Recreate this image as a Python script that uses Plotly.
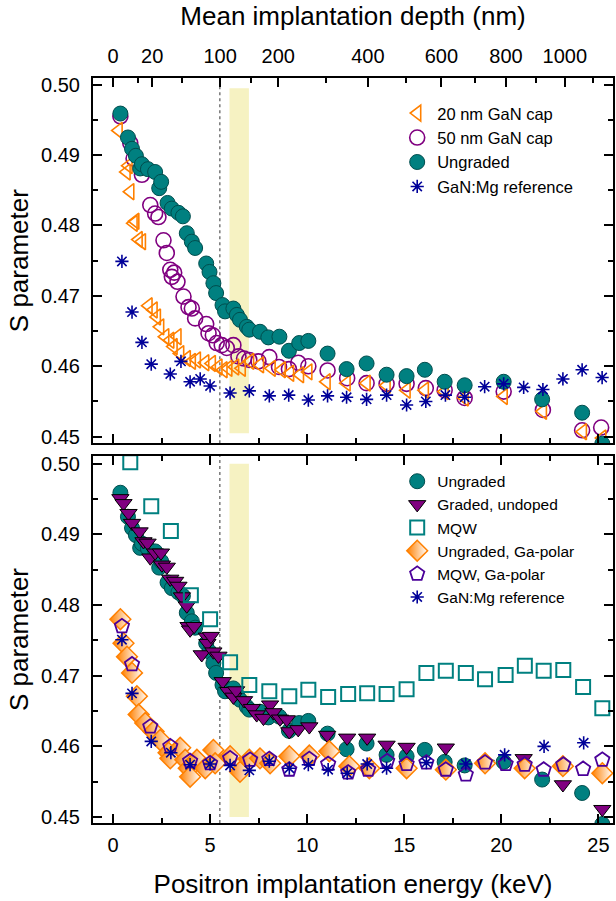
import plotly.graph_objects as go

# ---------------- data ----------------
# Top panel
ungraded_E = [0.38, 0.77, 0.98, 1.18, 1.40, 1.49, 1.80, 2.17, 2.38, 2.48, 2.81, 3.03, 3.37, 3.60, 3.80, 4.06,
              4.23, 4.80, 4.97, 5.17, 5.31, 5.64, 5.77, 6.20, 6.38, 6.54, 6.89, 7.02, 7.57, 8.00, 8.57, 9.06,
              9.59, 10.06, 11.05, 12.03, 13.06, 14.09, 15.12, 16.06, 17.08, 18.11, 20.12, 22.10, 24.16, 25.20]
ungraded_S = [0.4959, 0.4925, 0.4909, 0.4899, 0.4881, 0.4887, 0.4880, 0.4876, 0.4853, 0.4862, 0.4832, 0.4824,
              0.4818, 0.4813, 0.4789, 0.4777, 0.4768, 0.4746, 0.4734, 0.4718, 0.4704, 0.4687, 0.4678, 0.4682,
              0.4673, 0.4666, 0.4656, 0.4652, 0.4649, 0.4641, 0.4642, 0.4622, 0.4633, 0.4636, 0.4618, 0.4596,
              0.4604, 0.4588, 0.4586, 0.4595, 0.4578, 0.4573, 0.4578, 0.4553, 0.4534, 0.4490]

cap20_E = [0.29, 0.70, 0.80, 0.89, 1.06, 1.15, 1.32, 1.49, 1.83, 2.09, 2.26, 2.43, 2.69, 2.95, 3.12, 3.32,
           3.46, 3.80, 4.06, 4.32, 4.75, 5.09, 5.43, 5.69, 5.94, 6.29, 6.63, 7.06, 7.57, 8.17, 8.69, 9.12,
           9.63, 10.06, 11.00, 12.03, 13.06, 14.09, 15.12, 16.06, 17.08, 18.11, 20.12, 22.14, 24.20, 25.20]
cap20_S = [0.4935, 0.4876, 0.4885, 0.4848, 0.4803, 0.4806, 0.4780, 0.4777, 0.4686, 0.4680, 0.4670, 0.4656,
           0.4642, 0.4637, 0.4628, 0.4642, 0.4618, 0.4611, 0.4607, 0.4609, 0.4605, 0.4604, 0.4599, 0.4595,
           0.4597, 0.4599, 0.4597, 0.4607, 0.4602, 0.4597, 0.4595, 0.4590, 0.4588, 0.4592, 0.4578, 0.4576,
           0.4576, 0.4573, 0.4566, 0.4566, 0.4564, 0.4555, 0.4557, 0.4536, 0.4507, 0.4498]

cap50_E = [0.38, 0.89, 1.06, 1.49, 1.92, 2.17, 2.34, 2.60, 2.77, 2.95, 3.03, 3.15, 3.32, 3.63, 3.89, 4.06,
           4.23, 4.80, 4.92, 5.14, 5.34, 5.60, 5.86, 6.20, 6.46, 6.75, 7.02, 7.49, 8.05, 8.55, 9.06, 9.54,
           10.06, 11.05, 12.06, 13.06, 14.09, 15.12, 16.11, 17.08, 18.11, 20.12, 22.14, 24.16, 25.14]
cap50_S = [0.4955, 0.4917, 0.4895, 0.4872, 0.4829, 0.4817, 0.4812, 0.4779, 0.4761, 0.4737, 0.4727, 0.4733,
           0.4720, 0.4699, 0.4684, 0.4682, 0.4668, 0.4660, 0.4647, 0.4644, 0.4633, 0.4630, 0.4626, 0.4630,
           0.4614, 0.4611, 0.4609, 0.4607, 0.4613, 0.4599, 0.4596, 0.4605, 0.4600, 0.4594, 0.4583, 0.4576,
           0.4575, 0.4575, 0.4569, 0.4566, 0.4555, 0.4564, 0.4538, 0.4509, 0.4513]

mgref_top_E = [0.46, 0.98, 1.49, 1.97, 2.95, 3.50, 3.97, 4.49, 5.00, 6.03, 7.02, 8.05, 9.05, 10.06, 11.05,
               12.03, 13.06, 14.09, 15.12, 16.11, 17.12, 18.11, 19.14, 20.12, 21.15, 22.14, 23.17, 24.16, 25.19]
mgref_top_S = [0.4749, 0.4677, 0.4634, 0.4603, 0.4589, 0.4607, 0.4578, 0.4582, 0.4572, 0.4562, 0.4565, 0.4558,
               0.4559, 0.4552, 0.4558, 0.4556, 0.4553, 0.4559, 0.4545, 0.4550, 0.4559, 0.4556, 0.4571, 0.4575,
               0.4570, 0.4567, 0.4582, 0.4595, 0.4584]

# Bottom panel
graded_E = [0.38, 0.54, 0.80, 0.98, 1.37, 1.57, 1.78, 1.92, 2.17, 2.47, 2.52, 2.77, 2.95, 3.20, 3.37, 3.55,
            3.80, 3.89, 3.97, 4.18, 4.57, 4.83, 4.86, 5.04, 5.17, 5.43, 5.65, 5.94, 6.20, 6.34, 6.75, 7.15,
            7.40, 7.75, 8.09, 8.26, 8.60, 8.95, 9.08, 9.54, 10.11, 11.03, 12.06, 13.09, 14.09, 15.12, 17.14,
            19.19, 21.15, 23.17, 25.20]
graded_S = [0.4951, 0.4944, 0.4930, 0.4916, 0.4904, 0.4890, 0.4888, 0.4867, 0.4874, 0.4874, 0.4857, 0.4854,
            0.4837, 0.4834, 0.4827, 0.4812, 0.4799, 0.4770, 0.4765, 0.4770, 0.4730, 0.4755, 0.4746, 0.4756,
            0.4734, 0.4728, 0.4692, 0.4678, 0.4670, 0.4679, 0.4665, 0.4654, 0.4645, 0.4640, 0.4659, 0.4648,
            0.4639, 0.4638, 0.4621, 0.4624, 0.4628, 0.4616, 0.4612, 0.4612, 0.4602, 0.4599, 0.4598, 0.4575,
            0.4583, 0.4546, 0.4511]

mqw_E = [0.89, 1.97, 2.98, 4.01, 5.00, 6.03, 7.02, 8.05, 9.08, 10.06, 11.08, 12.11, 13.09, 14.09, 15.12,
         16.14, 17.14, 18.17, 19.16, 20.22, 21.21, 22.18, 23.19, 24.21, 25.20]
mqw_S = [0.5002, 0.4940, 0.4905, 0.4814, 0.4780, 0.4719, 0.4687, 0.4678, 0.4671, 0.4680, 0.4670, 0.4674,
         0.4675, 0.4674, 0.4681, 0.4704, 0.4707, 0.4704, 0.4695, 0.4701, 0.4714, 0.4707, 0.4708, 0.4684, 0.4654]

ungraded_ga_E = [0.38, 0.54, 0.72, 0.98, 1.23, 1.32, 1.66, 2.09, 2.43, 2.86, 2.95, 3.46, 3.72, 3.90, 3.97,
                 4.32, 4.75, 5.17, 5.26, 6.03, 6.54, 7.02, 7.57, 8.09, 9.08, 10.11, 11.14, 12.17, 13.20, 15.12,
                 17.14, 19.16, 21.20, 23.17, 25.20]
ungraded_ga_S = [0.4780, 0.4746, 0.4727, 0.4704, 0.4671, 0.4645, 0.4633, 0.4621, 0.4609, 0.4591, 0.4583, 0.4598,
                 0.4581, 0.4569, 0.4557, 0.4581, 0.4569, 0.4595, 0.4576, 0.4586, 0.4564, 0.4581, 0.4583, 0.4576,
                 0.4586, 0.4587, 0.4593, 0.4572, 0.4569, 0.4569, 0.4567, 0.4576, 0.4569, 0.4572, 0.4562]

mqw_ga_E = [0.46, 0.98, 1.92, 2.95, 3.97, 5.00, 6.03, 7.06, 8.05, 9.08, 10.11, 11.08, 12.11, 13.14, 14.12,
            15.12, 16.14, 17.14, 18.17, 19.16, 20.22, 21.20, 22.18, 23.19, 24.21, 25.20]
mqw_ga_S = [0.4770, 0.4716, 0.4628, 0.4600, 0.4579, 0.4576, 0.4583, 0.4581, 0.4582, 0.4567, 0.4582, 0.4575,
            0.4563, 0.4567, 0.4579, 0.4575, 0.4577, 0.4567, 0.4560, 0.4577, 0.4575, 0.4574, 0.4567, 0.4574,
            0.4568, 0.4581]

mgref_bot_E = [0.46, 0.98, 1.97, 2.98, 3.97, 5.00, 6.03, 7.02, 8.05, 9.08, 10.06, 11.08, 12.06, 13.09, 14.09,
               16.14, 18.17, 20.17, 22.20, 24.24]
mgref_bot_S = [0.4751, 0.4675, 0.4607, 0.4591, 0.4574, 0.4575, 0.4573, 0.4566, 0.4579, 0.4569, 0.4574, 0.4567,
               0.4562, 0.4575, 0.4569, 0.4577, 0.4575, 0.4588, 0.4600, 0.4605]

# top-axis depth labels (nm) and their conversion parameters (Makhov profile, GaN)
depth_major = [0, 20, 100, 200, 400, 600, 800, 1000]
depth_minor = [10, 50, 150, 300, 500, 700, 900, 1100]
rho_GaN, makhov_A, makhov_n = 6.15, 40.0, 1.6

# annotation markers
interface_E = 5.5
band_E = [6.0, 7.0]
band_S_top = [0.4505, 0.4995]
band_S_bot = [0.4500, 0.5000]

# ---------------- styling ----------------
FONT = "Liberation Sans, Arial, sans-serif"
TEAL = "#008080"
ORANGE = "#FF8000"
PURPLE = "#800080"
NAVY = "#000099"
INDIGO = "#4B0099"

x_range = [-1.03, 25.75]


def depth_to_E(d):
    return (d * rho_GaN / makhov_A) ** (1.0 / makhov_n)


fig = go.Figure()


def add(xs, ys, name, marker, xa, ya, legend, rank):
    fig.add_trace(go.Scatter(x=xs, y=ys, mode="markers", name=name, marker=marker,
                             xaxis=xa, yaxis=ya, legend=legend, legendrank=rank, cliponaxis=True))


ungraded_marker = dict(symbol="circle", size=15, color=TEAL, line=dict(color="#004d4d", width=1))

# top panel (x2, y2), legend
add(cap50_E, cap50_S, "50 nm GaN cap",
    dict(symbol="circle-open", size=15, color=PURPLE, line=dict(width=1.6)), "x2", "y2", "legend", 2)
add(cap20_E, cap20_S, "20 nm GaN cap",
    dict(symbol="triangle-left-open", size=14, color=ORANGE, line=dict(width=1.6)), "x2", "y2", "legend", 1)
add(ungraded_E, ungraded_S, "Ungraded", ungraded_marker, "x2", "y2", "legend", 3)
add(mgref_top_E, mgref_top_S, "GaN:Mg reference",
    dict(symbol="asterisk-open", size=11, color=NAVY, line=dict(width=1.6, color=NAVY)), "x2", "y2", "legend", 4)
# empty trace that registers the top depth axis
fig.add_trace(go.Scatter(x=[], y=[], mode="markers", xaxis="x3", yaxis="y2", showlegend=False,
                         hoverinfo="skip"))

# bottom panel (x, y), legend2
add(ungraded_E, ungraded_S, "Ungraded", ungraded_marker, "x", "y", "legend2", 1)
add(graded_E, graded_S, "Graded, undoped",
    dict(symbol="triangle-down", size=15, color=PURPLE, line=dict(color="black", width=1)), "x", "y", "legend2", 2)
add(mqw_E, mqw_S, "MQW",
    dict(symbol="square-open", size=14, color=TEAL, line=dict(width=2)), "x", "y", "legend2", 3)
add(ungraded_ga_E, ungraded_ga_S, "Ungraded, Ga-polar",
    dict(symbol="diamond", size=16, color=ORANGE, line=dict(color=ORANGE, width=1.5),
         gradient=dict(type="horizontal", color="white")), "x", "y", "legend2", 4)
add(mqw_ga_E, mqw_ga_S, "MQW, Ga-polar",
    dict(symbol="pentagon-open", size=15, color=INDIGO, line=dict(width=1.8)), "x", "y", "legend2", 5)
add(mgref_bot_E, mgref_bot_S, "GaN:Mg reference",
    dict(symbol="asterisk-open", size=11, color=NAVY, line=dict(width=1.6, color=NAVY)), "x", "y", "legend2", 6)

# shapes: yellow band and dashed interface line in both panels
shapes = []
for xa, ya, bS in (("x", "y", band_S_bot), ("x2", "y2", band_S_top)):
    shapes.append(dict(type="rect", xref=xa, yref=ya, x0=band_E[0], x1=band_E[1], y0=bS[0], y1=bS[1],
                       fillcolor="#F6F2C2", line=dict(width=0), layer="below"))
    shapes.append(dict(type="line", xref=xa, yref=ya + " domain", x0=interface_E, x1=interface_E, y0=0, y1=1,
                       line=dict(color="#808080", width=1.6, dash="3px,3px"), layer="below"))

tickfont = dict(family=FONT, size=20, color="black")
titlefont = dict(family=FONT, size=26, color="black")

common_x = dict(range=x_range, showline=True, linecolor="black", linewidth=2, ticks="inside",
                ticklen=9, tickwidth=1.5, tickcolor="black", dtick=5, tick0=0, showgrid=False,
                zeroline=False, tickfont=tickfont, automargin=False, ticklabelstandoff=3,
                minor=dict(dtick=2.5, tick0=0, ticks="inside", ticklen=5, tickwidth=1.5, tickcolor="black"))
common_y = dict(showline=True, linecolor="black", linewidth=2, ticks="inside", ticklen=9, tickwidth=1.5,
                tickcolor="black", dtick=0.01, tick0=0.45, tickformat=".2f", showgrid=False, zeroline=False,
                mirror="ticks", tickfont=tickfont, automargin=False, ticklabelstandoff=7,
                minor=dict(dtick=0.005, tick0=0.45, ticks="inside", ticklen=5, tickwidth=1.5, tickcolor="black"),
                title=dict(text="S parameter", font=titlefont, standoff=5))

fig.update_layout(
    width=616, height=901,
    margin=dict(l=93, r=3, t=78, b=78, autoexpand=False),
    paper_bgcolor="white", plot_bgcolor="white",
    font=dict(family=FONT, color="black"),
    shapes=shapes,
    xaxis=dict(common_x, domain=[0, 1], anchor="y", mirror="ticks",
               title=dict(text="Positron implantation energy (keV)", font=titlefont, standoff=20)),
    yaxis=dict(common_y, domain=[0, 0.4926], anchor="x", range=[0.44915, 0.5011]),
    xaxis2=dict(common_x, domain=[0, 1], anchor="y2", showticklabels=False),
    yaxis2=dict(common_y, domain=[0.5097, 1], anchor="x2", range=[0.44906, 0.50095]),
    xaxis3=dict(overlaying="x2", anchor="y2", side="top", range=x_range, showline=True, linecolor="black",
                linewidth=2, ticks="inside", ticklen=9, tickwidth=1.5, tickcolor="black", showgrid=False,
                zeroline=False, tickmode="array", automargin=False, ticklabelstandoff=5,
                tickvals=[depth_to_E(d) for d in depth_major], ticktext=[str(d) for d in depth_major],
                tickfont=tickfont,
                minor=dict(tickmode="array", tickvals=[depth_to_E(d) for d in depth_minor], ticks="inside",
                           ticklen=5, tickwidth=1.5, tickcolor="black"),
                title=dict(text="Mean implantation depth (nm)", font=titlefont, standoff=12)),
    legend=dict(x=0.585, y=0.976, xanchor="left", yanchor="top", bgcolor="rgba(0,0,0,0)",
                font=dict(family=FONT, size=16.5, color="black"), tracegroupgap=0, itemsizing="trace"),
    legend2=dict(x=0.585, y=0.481, xanchor="left", yanchor="top", bgcolor="rgba(0,0,0,0)",
                 font=dict(family=FONT, size=15.5, color="black"), itemsizing="trace"),
    showlegend=True,
)

fig.write_html("out.html", config={"displayModeBar": False},
               post_script="document.body.style.margin='0px';")
